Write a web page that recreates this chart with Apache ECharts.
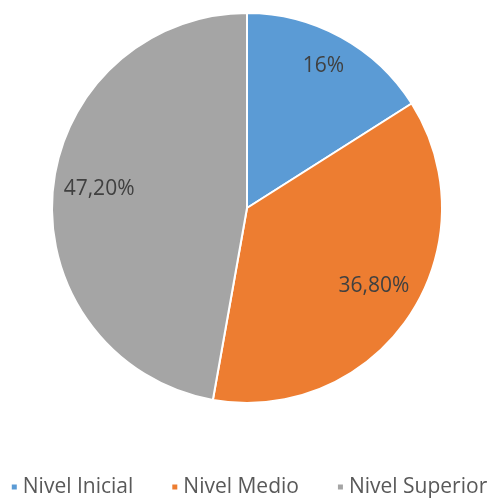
<!DOCTYPE html>
<html><head><meta charset="utf-8">
<script src="https://cdn.jsdelivr.net/npm/echarts@6/dist/echarts.min.js"></script>
<style>html,body{margin:0;padding:0;background:#fff}#c{width:497px;height:498px}</style>
</head><body><div id="c"></div>
<script>
const categories = ['Nivel Inicial', 'Nivel Medio', 'Nivel Superior'];
const values = [16, 36.8, 47.2];
const labelTexts = ['16%', '36,80%', '47,20%'];
const colors = ['#5B9BD5', '#ED7D31', '#A5A5A5'];

const chart = echarts.init(document.getElementById('c'));
const data = categories.map((n, i) => ({ name: n, value: values[i], itemStyle: { color: colors[i] } }));
// label overlays: first label sits further out than the others (Excel best-fit)
const overlayOuter = categories.map((n, i) => ({ name: n, value: values[i], label: { show: i === 0, formatter: labelTexts[i] } }));
const overlayInner = categories.map((n, i) => ({ name: n, value: values[i], label: { show: i !== 0, formatter: labelTexts[i] } }));
const labelStyle = { position: 'inside', fontFamily: 'Open Sans', fontSize: 21, color: '#404040' };
const overlayBase = {
  type: 'pie', center: [247, 208], startAngle: 90, clockwise: true, silent: true,
  itemStyle: { color: 'rgba(0,0,0,0)' }, labelLine: { show: false },
  emphasis: { disabled: true }, legendHoverLink: false
};
chart.setOption({
  animation: false,
  legend: {
    top: 471,
    left: 'center',
    icon: 'rect',
    itemWidth: 7,
    itemHeight: 7,
    itemGap: 37,
    textStyle: { fontFamily: 'Open Sans', fontSize: 21, lineHeight: 22, color: '#595959' },
    data: categories
  },
  series: [
    {
      type: 'pie',
      center: [247, 208],
      radius: [0, 195],
      startAngle: 90,
      clockwise: true,
      data: data,
      label: { show: false },
      labelLine: { show: false },
      itemStyle: { borderColor: '#fff', borderWidth: 2 },
      emphasis: { disabled: true }
    },
    Object.assign({}, overlayBase, { radius: [129, 195], data: overlayOuter, label: Object.assign({}, labelStyle, { offset: [-3, 3] }) }),
    Object.assign({}, overlayBase, { radius: [100, 195], data: overlayInner, label: Object.assign({}, labelStyle, { offset: [2, -6] }) })
  ]
});
</script></body></html>
